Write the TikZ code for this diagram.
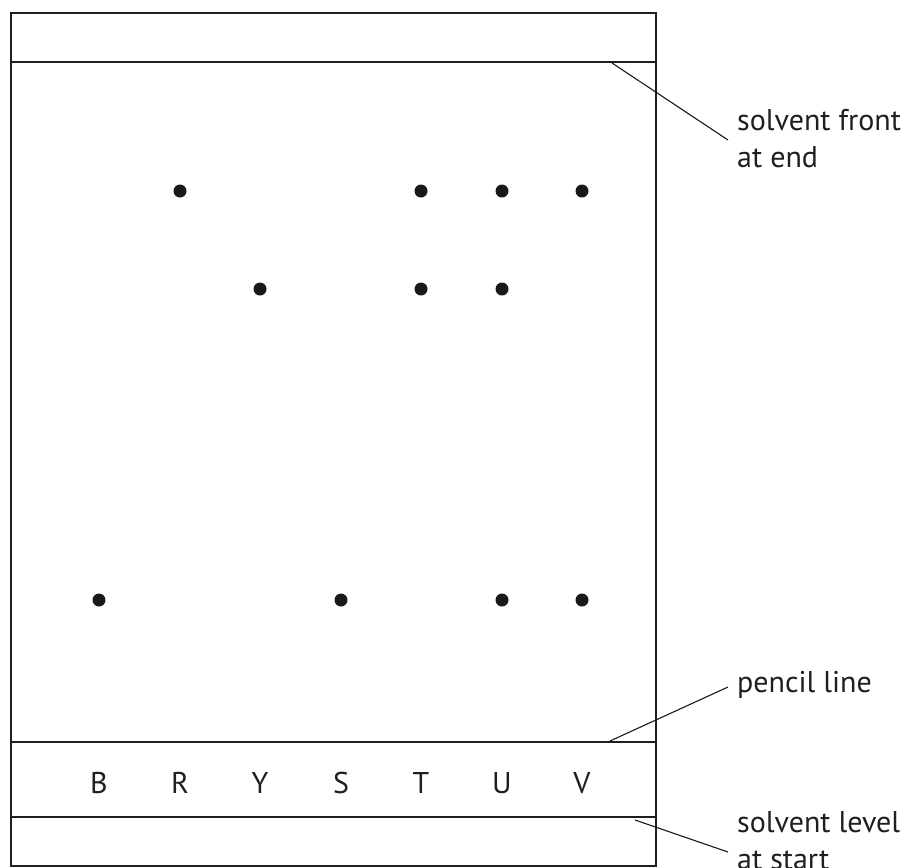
\documentclass[tikz,border=0pt]{standalone}
\usepackage{fontspec}
\setmainfont{PT Sans}
\begin{document}
\begin{tikzpicture}[x=1pt,y=-1pt,
  plate/.style={draw=black!88,line width=2.6pt},
  level/.style={draw=black!88,line width=1.6pt},
  leader/.style={draw=black!90,line width=1.1pt},
  spot/.style={circle,fill=black!90,inner sep=0pt,minimum size=13pt},
  lab/.style={font=\fontsize{30}{37}\selectfont,align=left,inner sep=0pt,anchor=north west,text=black!88},
  letter/.style={font=\fontsize{30}{35}\selectfont,anchor=base,inner sep=0pt,text=black!88}]
\useasboundingbox (0,0) rectangle (911,868);
% plate
\draw[level] (11,62) -- (656,62);
\draw[level] (11,742) -- (656,742);
\draw[level] (11,817) -- (656,817);
\draw[plate] (11,13) rectangle (656,866);
% letters
\foreach \n/\x in {B/99,R/180,Y/260,S/341,T/421,U/502,V/582}
  \node[letter] (L\n) at (\x,793) {\n};
% spots
\node[spot] (s1) at (180,191) {};
\node[spot] (s2) at (421,191) {};
\node[spot] (s3) at (502,191) {};
\node[spot] (s4) at (582,191) {};
\node[spot] (s5) at (260,289) {};
\node[spot] (s6) at (421,289) {};
\node[spot] (s7) at (502,289) {};
\node[spot] (s8) at (99,600) {};
\node[spot] (s9) at (341,600) {};
\node[spot] (s10) at (502,600) {};
\node[spot] (s11) at (582,600) {};
% labels
\node[lab] (front) at (737,109) {solvent front\\at end};
\node[lab] (pencil) at (737,671) {pencil line};
\node[lab] (start) at (737,811) {solvent level\\at start};
% leaders
\coordinate (f0) at (612,63);
\coordinate (f1) at (728,140);
\coordinate (p0) at (610,741);
\coordinate (p1) at (728,687);
\coordinate (l0) at (635,820);
\coordinate (l1) at (728,852);
\draw[leader] (f0) -- (f1);
\draw[leader] (p0) -- (p1);
\draw[leader] (l0) -- (l1);
\end{tikzpicture}
\end{document}
